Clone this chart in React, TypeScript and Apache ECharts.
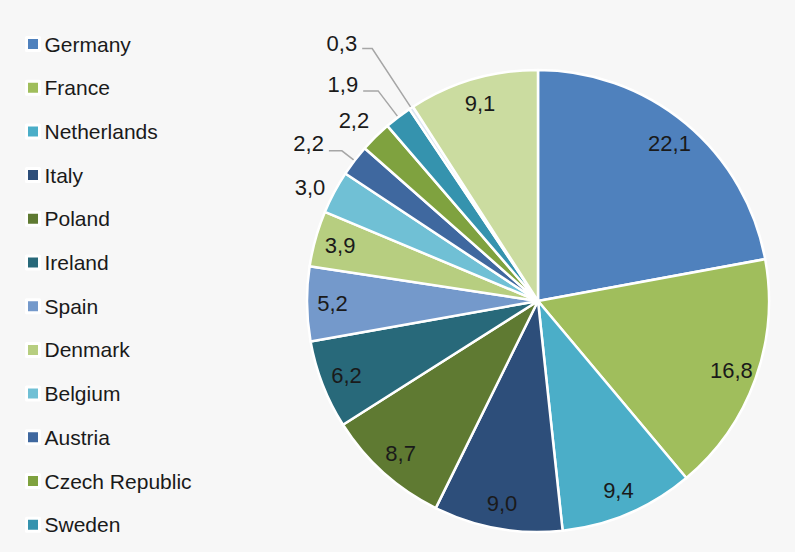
import React, { useEffect, useRef } from "react";
import * as echarts from "echarts";

// ---- data ----
const countries = [
  "Germany",
  "France",
  "Netherlands",
  "Italy",
  "Poland",
  "Ireland",
  "Spain",
  "Denmark",
  "Belgium",
  "Austria",
  "Czech Republic",
  "Sweden",
  "Remaining",
  "Other",
];
const legendNames = countries.slice(0, 12);
const shares = [22.1, 16.8, 9.4, 9.0, 8.7, 6.2, 5.2, 3.9, 3.0, 2.2, 2.2, 1.9, 0.3, 9.1];

// ---- styles ----
const colors = [
  "#4f81bd",
  "#a0be5c",
  "#4baec8",
  "#2d4e7a",
  "#5f7a32",
  "#28697a",
  "#7499cb",
  "#b7ce80",
  "#70c0d5",
  "#3f689f",
  "#7fa23f",
  "#3593ae",
  "#dce6f2",
  "#cbdca0",
];

// outside label placement (per slice), styling only
const outsideLabels: Record<string, { len: number; len2: number; dist: number; line: boolean; lift: number }> = {
  Belgium: { len: 10, len2: 0, dist: 0, line: false, lift: 0 },
  Austria: { len: 16, len2: 13, dist: 5, line: true, lift: 7 },
  "Czech Republic": { len: 22, len2: 0, dist: -9, line: false, lift: 0 },
  Sweden: { len: 33, len2: 15, dist: 5, line: true, lift: 6.5 },
  Remaining: { len: 71, len2: 10, dist: 5, line: true, lift: 5 },
};

const FONT = "'Liberation Sans', Arial, sans-serif";
const LABEL_SIZE = 22;
const fmt = (v: number) => v.toFixed(1).replace(".", ",");

export default function App() {
  const ref = useRef<HTMLDivElement>(null);

  useEffect(() => {
    if (!ref.current) return;
    const chart = echarts.init(ref.current, undefined, { renderer: "svg" });
    const center = [538, 301];
    const R = 231;

    const mainData = countries.map((name, i) => {
      const o = outsideLabels[name];
      return {
        name,
        value: shares[i],
        itemStyle: { color: colors[i] },
        label: o
          ? {
              show: true,
              position: "outside",
              distanceToLabelLine: o.dist,
              lineHeight: o.lift > 0 ? o.lift * 2 : LABEL_SIZE,
            }
          : { show: false },
        labelLine: o
          ? {
              show: o.line,
              length: o.len,
              length2: o.len2,
              smooth: false,
              lineStyle: { color: "#a6a6a6", width: 1.5 },
            }
          : { show: false },
      };
    });

    const overlayData = countries.map((name, i) => ({
      value: shares[i],
      label: { show: !outsideLabels[name] },
    }));

    chart.setOption({
      animation: false,
      backgroundColor: "#f7f7f7",
      legend: {
        data: legendNames,
        orient: "vertical",
        left: 25,
        top: 32,
        padding: 0,
        itemWidth: 13,
        itemHeight: 13,
        itemGap: 19.7,
        icon: "rect",
        selectedMode: false,
        itemStyle: { borderColor: "#ffffff", borderWidth: 3 },
        textStyle: { fontSize: 21, fontFamily: FONT, color: "#1a1a1a", lineHeight: 24 },
      },
      series: [
        {
          type: "pie",
          radius: [0, R],
          center,
          startAngle: 90,
          clockwise: true,
          avoidLabelOverlap: false,
          silent: true,
          emphasis: { disabled: true },
          itemStyle: { borderColor: "#ffffff", borderWidth: 2.5 },
          label: {
            formatter: (p: any) => {
              const o = outsideLabels[p.name];
              return fmt(p.value) + (o && o.lift > 0 ? "\n " : "");
            },
            fontSize: LABEL_SIZE,
            fontFamily: FONT,
            color: "#1a1a1a",
          },
          data: mainData,
        },
        {
          type: "pie",
          radius: [174, R],
          center,
          startAngle: 90,
          clockwise: true,
          avoidLabelOverlap: false,
          silent: true,
          emphasis: { disabled: true },
          itemStyle: { color: "rgba(0,0,0,0)", borderWidth: 0 },
          label: {
            position: "inside",
            formatter: (p: any) => fmt(p.value),
            fontSize: LABEL_SIZE,
            fontFamily: FONT,
            color: "#1a1a1a",
          },
          labelLine: { show: false },
          data: overlayData,
        },
      ],
    });
    return () => chart.dispose();
  }, []);

  return (
    <div
      ref={ref}
      style={{ position: "absolute", left: 0, top: 0, width: 795, height: 552 }}
    />
  );
}
